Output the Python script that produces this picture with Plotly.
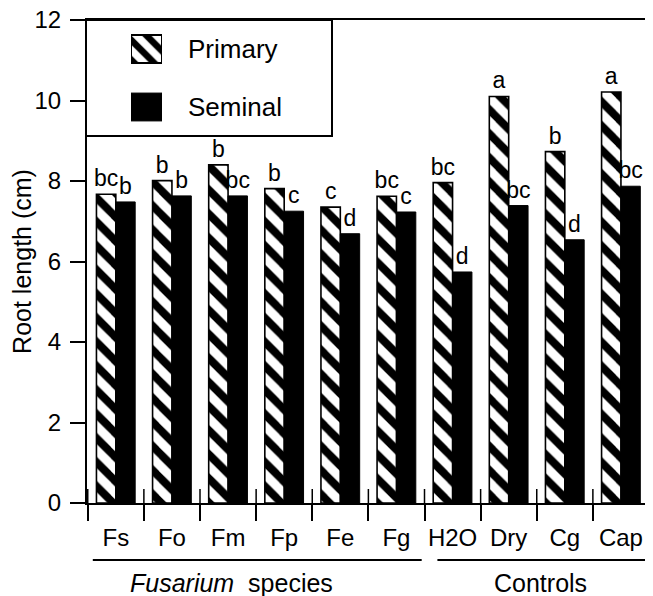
import plotly.graph_objects as go

categories = ["Fs", "Fo", "Fm", "Fp", "Fe", "Fg", "H2O", "Dry", "Cg", "Cap"]
primary = [7.67, 8.01, 8.40, 7.81, 7.35, 7.62, 7.96, 10.10, 8.73, 10.21]
seminal = [7.48, 7.63, 7.63, 7.25, 6.69, 7.23, 5.74, 7.39, 6.54, 7.87]
primary_letters = ["bc", "b", "b", "b", "c", "bc", "bc", "a", "b", "a"]
seminal_letters = ["b", "b", "bc", "c", "d", "c", "d", "bc", "d", "bc"]
group_names = ["<i>Fusarium</i>  species", "Controls"]
group_members = [["Fs", "Fo", "Fm", "Fp", "Fe", "Fg"], ["H2O", "Dry", "Cg", "Cap"]]
legend_names = ["Primary", "Seminal"]
y_ticks = [0, 2, 4, 6, 8, 10, 12]

FONT = "Liberation Sans, Arial, Helvetica, sans-serif"
FS = 24
OFF = 8  # page body margin of the browser
W, H = 653 - OFF, 596 - OFF
# plot area in reference pixels: x 87..650, y 20..503
PL, PR, PT, PB = 87, 650, 20, 503
ML, MR, MT, MB = PL - OFF, W - (PR - OFF), PT - OFF, H - (PB - OFF)
PW = PR - PL
PH = PB - PT

pattern = dict(shape="\\", fgcolor="black", bgcolor="white", size=17, solidity=0.47,
               fgopacity=1, fillmode="replace")

fig = go.Figure()
fig.add_trace(go.Bar(
    x=categories, y=primary, name=legend_names[0],
    marker=dict(color="white", pattern=pattern, line=dict(color="black", width=1.6)),
    text=primary_letters, textposition="outside", textangle=0, constraintext="none",
    textfont=dict(family=FONT, size=23, color="black"), cliponaxis=False,
    showlegend=False,
))
fig.add_trace(go.Bar(
    x=categories, y=seminal, name=legend_names[1],
    marker=dict(color="black", line=dict(color="black", width=1.0)),
    text=seminal_letters, textposition="outside", textangle=0, constraintext="none",
    textfont=dict(family=FONT, size=23, color="black"), cliponaxis=False,
    showlegend=False,
))

# legend swatches drawn on a small inset axis
fig.add_trace(go.Bar(
    y=[legend_names[0]], x=[1], orientation="h", xaxis="x3", yaxis="y3",
    marker=dict(color="white",
                pattern=dict(shape="\\", fgcolor="black", bgcolor="white", size=14, solidity=0.47,
                             fgopacity=1, fillmode="replace"),
                line=dict(color="black", width=2)),
    width=0.48, showlegend=False, hoverinfo="skip",
))
fig.add_trace(go.Bar(
    y=[legend_names[1]], x=[1], orientation="h", xaxis="x3", yaxis="y3",
    marker=dict(color="black", line=dict(color="black", width=1)),
    width=0.48, showlegend=False, hoverinfo="skip",
))

def px_to_paper_x(px):
    return (px - PL) / PW

def px_to_paper_y(py):
    return (PB - py) / PH

shapes = []
annotations = []

# inside half of the crossing x ticks at category boundaries
for i in range(len(categories) + 1):
    shapes.append(dict(type="line", xref="x", yref="y", x0=i - 0.5, x1=i - 0.5,
                       ysizemode="pixel", yanchor=0, y0=0, y1=14,
                       line=dict(color="black", width=1.5)))

# group underlines and labels
pads = [(-0.41, 0.45), (-0.27, 0.5)]
label_shift = [-0.43, 0.06]
for name, members, (p0, p1), ls in zip(group_names, group_members, pads, label_shift):
    i0 = categories.index(members[0])
    i1 = categories.index(members[-1])
    shapes.append(dict(type="line", xref="x", yref="paper", x0=i0 + p0, x1=i1 + p1,
                       y0=px_to_paper_y(560), y1=px_to_paper_y(560),
                       line=dict(color="black", width=2)))
    annotations.append(dict(text=name, xref="x", yref="paper", x=(i0 + i1) / 2 + ls,
                            y=px_to_paper_y(583), showarrow=False, xanchor="center", yanchor="middle",
                            font=dict(family=FONT, size=25, color="black")))

# legend box and labels
lx0, lx1 = px_to_paper_x(86), px_to_paper_x(332)
ly0, ly1 = px_to_paper_y(136), min(1.0, px_to_paper_y(20))
shapes.append(dict(type="rect", xref="paper", yref="paper", x0=lx0, x1=lx1, y0=ly0, y1=ly1,
                   line=dict(color="black", width=2), fillcolor="rgba(0,0,0,0)", layer="above"))
for nm, py in zip(legend_names, [49, 107]):
    annotations.append(dict(text=nm, xref="paper", yref="paper", x=px_to_paper_x(186), y=px_to_paper_y(py),
                            showarrow=False, xanchor="left", yanchor="middle",
                            font=dict(family=FONT, size=26, color="black")))

fig.update_layout(
    width=W, height=H,
    margin=dict(l=ML, r=MR, t=MT, b=MB, autoexpand=False),
    paper_bgcolor="white", plot_bgcolor="white",
    font=dict(family=FONT, size=FS, color="black"),
    barmode="group", bargap=0.31, bargroupgap=0.0,
    showlegend=False,
    xaxis=dict(
        type="category", categoryorder="array", categoryarray=categories,
        showline=True, linecolor="black", linewidth=2, mirror=True,
        ticks="outside", ticklen=16, tickwidth=1.5, tickcolor="black",
        tickson="boundaries", showgrid=False, zeroline=False, tickangle=0,
        tickfont=dict(family=FONT, size=FS, color="black"),
        ticklabelstandoff=12, automargin=False, ticklabeloverflow="allow",
    ),
    yaxis=dict(
        range=[0, 12], tickmode="array", tickvals=y_ticks,
        showline=True, linecolor="black", linewidth=2, mirror=True,
        ticks="outside", ticklen=15, tickwidth=1.5, tickcolor="black",
        showgrid=False, zeroline=False, automargin=False,
        tickfont=dict(family=FONT, size=FS, color="black"),
        ticklabelstandoff=4, ticklabeloverflow="allow",
        title=dict(text="Root length (cm)", font=dict(family=FONT, size=25, color="black"), standoff=0),
    ),
    xaxis3=dict(domain=[px_to_paper_x(131), px_to_paper_x(162)], range=[0, 1], anchor="y3",
                visible=False, fixedrange=True),
    yaxis3=dict(domain=[ly0, ly1], anchor="x3", type="category",
                categoryorder="array", categoryarray=legend_names[::-1],
                visible=False, fixedrange=True),
    shapes=shapes,
    annotations=annotations,
)

fig.write_html("out.html")
